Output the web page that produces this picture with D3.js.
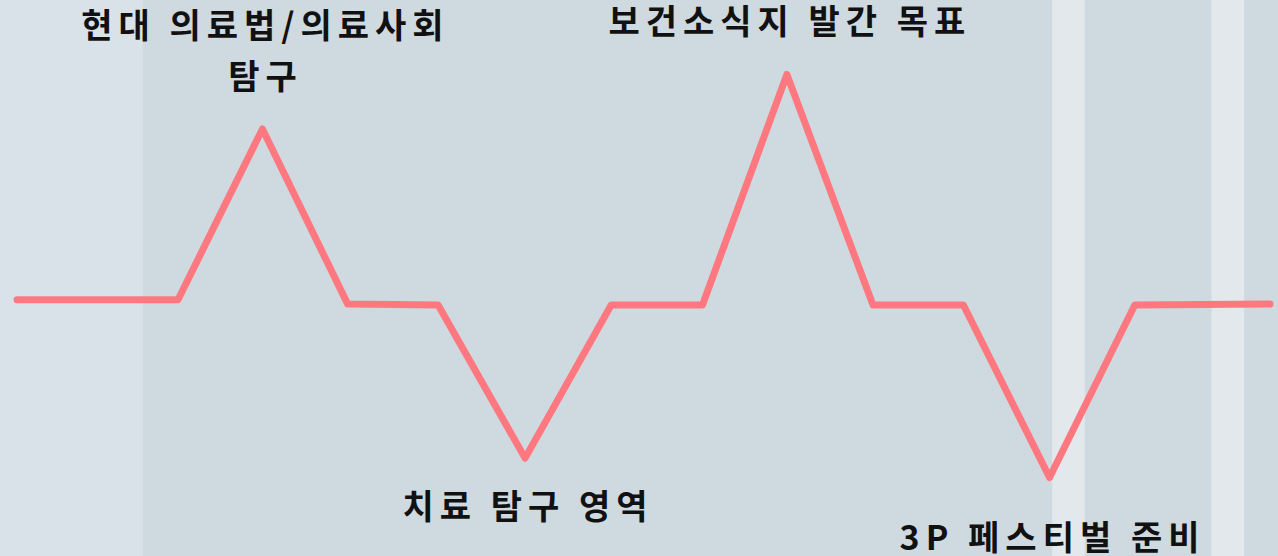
<!DOCTYPE html>
<html>
<head>
<meta charset="utf-8">
<script src="https://cdn.jsdelivr.net/npm/d3@7"></script>
<style>
html,body{margin:0;padding:0;background:#cfd9e0;overflow:hidden}
svg{display:block}
</style>
</head>
<body>
<svg id="chart" width="1278" height="556"></svg>
<script>
// ---- data ----
const times  = [0, 1.87, 2.85, 3.84, 4.89, 5.9, 6.9, 7.96, 8.94, 9.94, 10.99, 11.99, 12.98, 14.55];
const values = [0.03, 0.03, 1.0, 0.005, 0, -0.87, 0, 0, 1.31, 0, 0, -0.98, 0, 0.005];
const labelIndex = [2, 5, 8, 11];
const labelText = ["현대 의료법/의료사회\n탐구", "치료 탐구 영역", "보건소식지 발간 목표", "3P 페스티벌 준비"];
const bandStart = [-0.2, 12.02, 13.87];
const bandEnd   = [1.46, 12.4, 14.25];
const bandKind  = ["left", "stripe", "stripe"];

const W = 1278, H = 556;
const svg = d3.select("#chart");
const x = d3.scaleLinear().domain([0, 14.55]).range([17, 1270]);
const y = d3.scaleLinear().domain([0, 1]).range([305, 129]);

svg.append("rect").attr("width", W).attr("height", H).attr("fill", "#cfd9e0");
const bandColor = {left: "#d9e2e9", stripe: "#e2e8ec"};
svg.selectAll("rect.band").data(bandStart.map((s, i) => ({s, e: bandEnd[i], k: bandKind[i]})))
  .enter().append("rect").attr("class", "band")
  .attr("x", d => Math.max(0, x(d.s))).attr("y", 0)
  .attr("width", d => x(d.e) - Math.max(0, x(d.s))).attr("height", H)
  .attr("fill", d => bandColor[d.k]);

const pts = times.map((t, i) => [t, values[i]]);
svg.append("path").datum(pts)
  .attr("d", d3.line().x(d => x(d[0])).y(d => y(d[1])))
  .attr("fill", "none").attr("stroke", "#ff7880").attr("stroke-width", 7)
  .attr("stroke-linecap", "round").attr("stroke-linejoin", "round");

const ls = 6;
labelIndex.forEach((idx, j) => {
  const px = x(times[idx]), py = y(values[idx]);
  const lines = labelText[j].split("\n");
  const up = values[idx] > 0;
  const lh = 51;
  const t = svg.append("text").attr("text-anchor", "middle")
    .attr("font-family", "'Noto Sans CJK KR', sans-serif").attr("font-weight", 700)
    .attr("font-size", 34).attr("letter-spacing", ls).attr("fill", "#111");
  lines.forEach((ln, k) => {
    let by;
    if (up) by = py - 40 - (lines.length - 1 - k) * lh;
    else by = py + (j === 1 ? 61 : 73) + k * lh;
    t.append("tspan").attr("x", px + ls / 2).attr("y", by).text(ln);
  });
});
</script>
</body>
</html>
